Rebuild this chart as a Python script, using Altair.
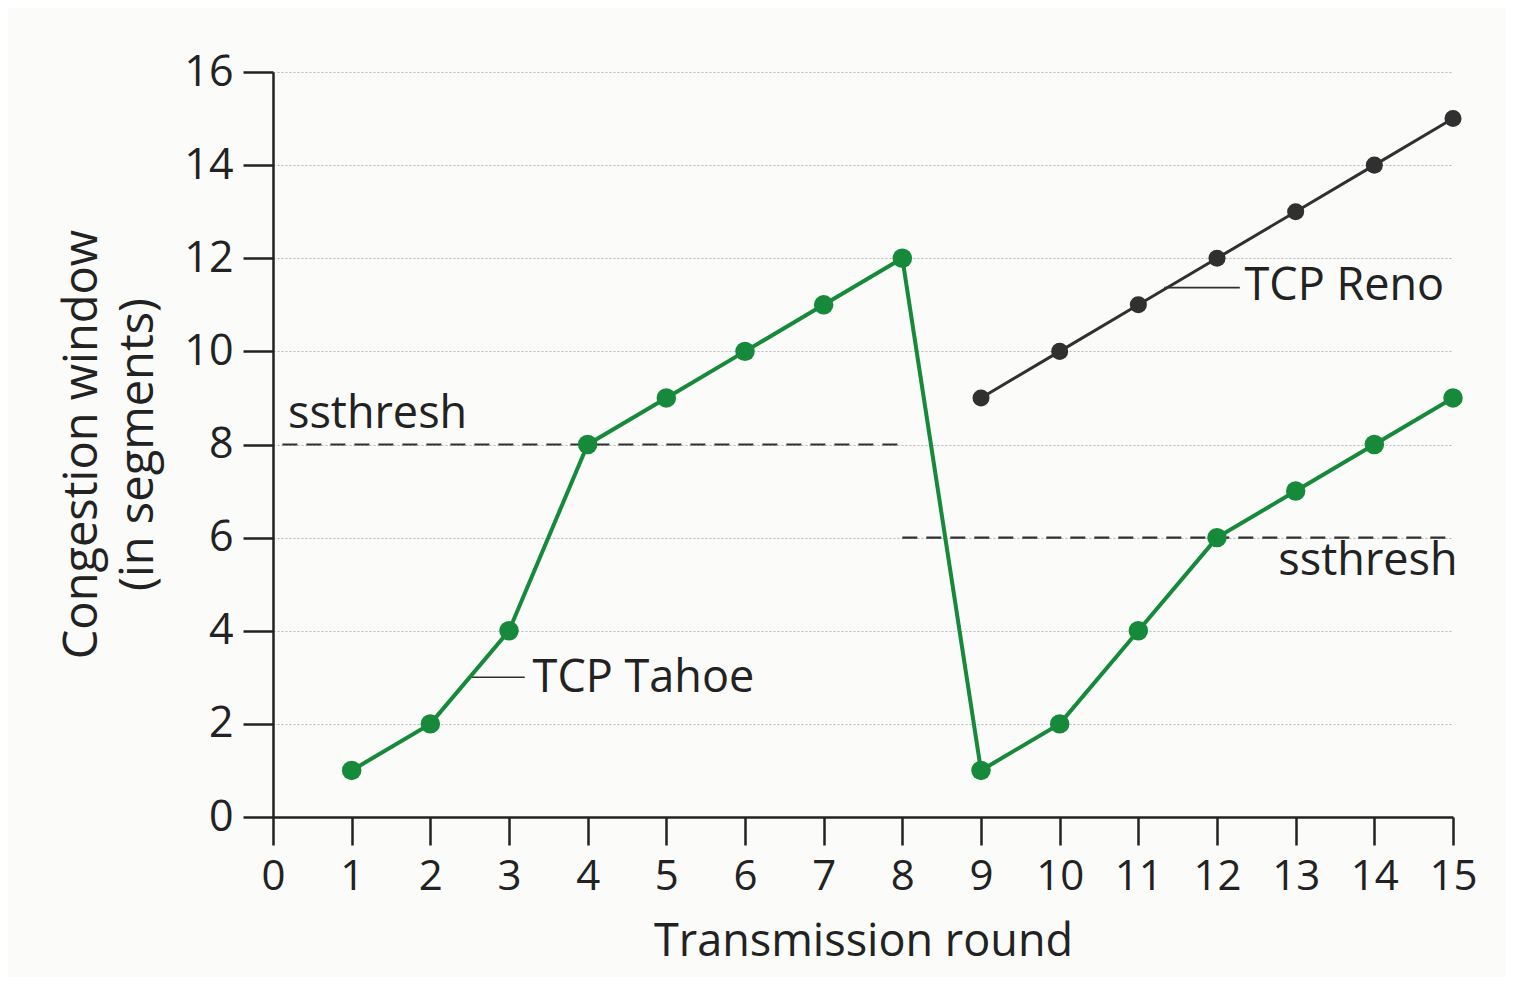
import altair as alt
import pandas as pd

# ---- data ----
rounds = list(range(1, 16))
tahoe = [1, 2, 4, 8, 9, 10, 11, 12, 1, 2, 4, 6, 7, 8, 9]
reno_rounds = list(range(9, 16))
reno = [9, 10, 11, 12, 13, 14, 15]

x_ticks = list(range(0, 16))
y_ticks = list(range(0, 17, 2))

# ssthresh levels (start round, end round, window)
thresh_x = [0.12, 8.0]
thresh_x2 = [8.0, 15.0]
thresh_y = [8, 6]

# annotation labels (data coordinates)
label_text = ["ssthresh", "ssthresh", "TCP Tahoe", "TCP Reno"]
label_x = [0.19, 12.78, 3.30, 12.35]
label_y = [8.35, 5.2, 2.68, 11.1]

# leader lines for series labels
leader_x = [2.50, 11.33]
leader_x2 = [3.20, 12.29]
leader_y = [3.0, 11.37]

# ---- tables ----
series_df = pd.DataFrame(
    {"round": rounds + reno_rounds,
     "cwnd": tahoe + reno,
     "series": ["TCP Tahoe"] * len(rounds) + ["TCP Reno"] * len(reno_rounds)}
)
thresh_df = pd.DataFrame({"x": thresh_x, "x2": thresh_x2, "y": thresh_y})
label_df = pd.DataFrame({"text": label_text, "x": label_x, "y": label_y})
leader_df = pd.DataFrame({"x": leader_x, "x2": leader_x2, "y": leader_y})

FONT = "Open Sans"
INK = "#222222"
GREEN = "#168a3a"
DARK = "#303030"

xs = alt.Scale(domain=[0, 15], nice=False, zero=False)
ys = alt.Scale(domain=[0, 16], nice=False)

color = alt.Color(
    "series:N",
    scale=alt.Scale(domain=["TCP Tahoe", "TCP Reno"], range=[GREEN, DARK]),
    legend=None,
)

base = alt.Chart(series_df)

lines_tahoe = alt.Chart(series_df).transform_filter(
    alt.datum.series == "TCP Tahoe"
).mark_line(color=GREEN, strokeWidth=4).encode(
    x=alt.X(
        "round:Q", scale=xs,
        axis=alt.Axis(
            values=x_ticks, format="d", labelOverlap=False,
            title="Transmission round", grid=False,
            tickSize=28, tickWidth=2.5, tickColor=INK,
            domainColor=INK, domainWidth=2.5,
            labelFont=FONT, labelFontSize=42, labelColor=INK, labelPadding=11,
            labelFlush=False,
            titleFont=FONT, titleFontSize=45, titleFontWeight="normal",
            titleColor=INK, titleBaseline="alphabetic", titleY=138,
        ),
    ),
    y=alt.Y(
        "cwnd:Q", scale=ys,
        axis=alt.Axis(
            values=y_ticks, format="d", labelOverlap=False,
            title=["Congestion window", "(in segments)"],
            grid=True, gridColor="#b8b8b8", gridDash=[2, 2], gridWidth=1.2,
            tickSize=30, tickWidth=2.5, tickColor=INK,
            domainColor=INK, domainWidth=2.5,
            labelFont=FONT, labelFontSize=43, labelColor=INK, labelPadding=10,
            labelFlush=False,
            titleFont=FONT, titleFontSize=47, titleFontWeight="normal",
            titleColor=INK, titleAngle=-90, titleBaseline="top",
            titleX=-214, titleY=372, titleLineHeight=56, titleAlign="center",
        ),
    ),
)

lines_reno = alt.Chart(series_df).transform_filter(
    alt.datum.series == "TCP Reno"
).mark_line(color=DARK, strokeWidth=3).encode(
    x=alt.X("round:Q", scale=xs), y=alt.Y("cwnd:Q", scale=ys)
)

points = base.mark_circle(opacity=1).encode(
    x=alt.X("round:Q", scale=xs),
    y=alt.Y("cwnd:Q", scale=ys),
    color=color,
    size=alt.Size(
        "series:N",
        scale=alt.Scale(domain=["TCP Tahoe", "TCP Reno"], range=[380, 290]),
        legend=None,
    ),
)

thresh = alt.Chart(thresh_df).mark_rule(
    color=DARK, strokeWidth=2.2, strokeDash=[15, 9]
).encode(
    x=alt.X("x:Q", scale=xs), x2="x2:Q", y=alt.Y("y:Q", scale=ys)
)

leaders = alt.Chart(leader_df).mark_rule(color=DARK, strokeWidth=1.6).encode(
    x=alt.X("x:Q", scale=xs), x2="x2:Q", y=alt.Y("y:Q", scale=ys)
)

labels = alt.Chart(label_df).mark_text(
    align="left", baseline="alphabetic", font=FONT, fontSize=45, color=INK
).encode(
    x=alt.X("x:Q", scale=xs), y=alt.Y("y:Q", scale=ys), text="text:N"
)

chart = alt.layer(
    thresh, leaders, lines_tahoe, lines_reno, points, labels
).properties(
    width=1180,
    height=745,
    autosize=alt.AutoSizeParams(type="none"),
    padding={"left": 265, "top": 64, "right": 53, "bottom": 160},
    background="#fbfbfa",
).configure_view(stroke=None)

chart.save("out.html", embed_options={"renderer": "svg", "actions": False})
